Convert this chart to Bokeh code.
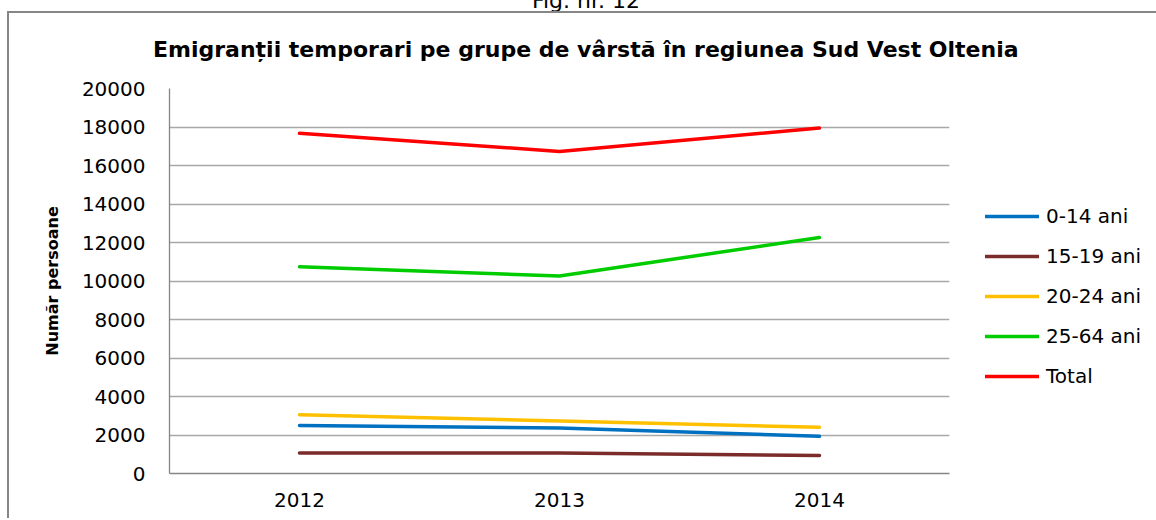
from bokeh.plotting import figure
from bokeh.models import (FactorRange, Range1d, FixedTicker, NumeralTickFormatter,
                          Div, Legend, LegendItem)
from bokeh.layouts import column, row
from bokeh.embed import file_html
from bokeh.resources import INLINE

# ---- data ----
years = ["2012", "2013", "2014"]
age_0_14 = [2490, 2370, 1930]
age_15_19 = [1060, 1060, 940]
age_20_24 = [3050, 2730, 2400]
age_25_64 = [10740, 10260, 12260]
total = [17670, 16730, 17950]
series_names = ["0-14 ani", "15-19 ani", "20-24 ani", "25-64 ani", "Total"]
series_values = [age_0_14, age_15_19, age_20_24, age_25_64, total]
series_colors = ["#0070C0", "#7B2C2A", "#FFC000", "#00CC00", "#FF0000"]
y_ticks = list(range(0, 20001, 2000))

title_text = "Emigranții temporari pe grupe de vârstă în regiunea Sud Vest Oltenia"
y_label = "Număr persoane"
fig_caption = "Fig. nr. 12"

FONT = "DejaVu Sans"
BORDER = "2px solid #868686"
H = 456

# ---- main chart ----
p = figure(
    width=948, height=H, title=None,
    x_range=FactorRange(*years, range_padding=0),
    y_range=Range1d(0, 20000),
    output_backend="svg", toolbar_location=None,
    min_border_left=160, min_border_right=8,
    min_border_top=26, min_border_bottom=45,
    background_fill_color="white", border_fill_color="white",
    outline_line_color=None,
    styles={"border-left": BORDER},
)

for vals, col in zip(series_values, series_colors):
    p.line(years, vals, line_color=col, line_width=3.5,
           line_cap="round", line_join="round")

p.yaxis.ticker = FixedTicker(ticks=y_ticks)
p.yaxis.formatter = NumeralTickFormatter(format="0")
for ax in (p.xaxis[0], p.yaxis[0]):
    ax.major_tick_in = 0
    ax.major_tick_out = 0
    ax.minor_tick_in = 0
    ax.minor_tick_out = 0
    ax.axis_line_color = "#868686"
    ax.axis_line_width = 1.3
    ax.major_label_text_font = FONT
    ax.major_label_text_font_size = "20px"
    ax.major_label_text_color = "#000000"
p.yaxis.major_label_standoff = 24
p.xaxis.major_label_standoff = 19
p.yaxis.axis_label = y_label
p.yaxis.axis_label_text_font = FONT
p.yaxis.axis_label_text_font_size = "16px"
p.yaxis.axis_label_text_font_style = "bold"
p.yaxis.axis_label_text_color = "#000000"
p.yaxis.axis_label_standoff = 17

p.xgrid.grid_line_color = None
p.ygrid.ticker = FixedTicker(ticks=y_ticks)
p.ygrid.grid_line_color = "#a8a8a8"
p.ygrid.grid_line_width = 1.3

# ---- legend panel (same series, drawn outside its visible range) ----
lf = figure(
    width=191, height=H, title=None,
    x_range=FactorRange(*years, range_padding=0), y_range=Range1d(-2, -1),
    x_axis_type=None, y_axis_type=None,
    output_backend="svg", toolbar_location=None,
    min_border_left=0, min_border_right=0, min_border_top=0, min_border_bottom=0,
    background_fill_color="white", border_fill_color="white",
    outline_line_color=None,
)
lf.xgrid.grid_line_color = None
lf.ygrid.grid_line_color = None

items = []
for name, vals, col in zip(series_names, series_values, series_colors):
    r = lf.line(years, vals, line_color=col, line_width=3.5,
                line_cap="round", line_join="round")
    items.append(LegendItem(label=name, renderers=[r]))

lg = Legend(items=items, location=(30, 85))
lg.padding = 0
lg.margin = 0
lg.spacing = 16
lg.glyph_width = 54
lg.glyph_height = 24
lg.label_height = 24
lg.label_standoff = 7
lg.label_text_font = FONT
lg.label_text_font_size = "20px"
lg.label_text_color = "#000000"
lg.border_line_color = None
lg.background_fill_alpha = 0
lf.add_layout(lg)

# ---- caption and title ----
caption = Div(
    text=fig_caption, width=1141, height=11, margin=(0, 0, 0, 0),
    styles={"font-family": FONT, "font-size": "22px", "line-height": "22px",
            "text-align": "center", "color": "#000000",
            "padding-left": "17px", "box-sizing": "border-box",
            "transform": "translateY(-10px)", "overflow": "visible"},
)
title = Div(
    text=title_text, width=1149, height=51, margin=(0, 0, 0, 0),
    styles={"font-family": FONT, "font-size": "22px", "line-height": "22px",
            "font-weight": "bold", "color": "#000000", "white-space": "nowrap",
            "padding-left": "144px", "padding-top": "26px",
            "box-sizing": "border-box", "background": "#ffffff",
            "border-top": BORDER, "border-left": BORDER},
)

layout = column(caption, title, row(p, lf, spacing=0), spacing=0,
                margin=(0, 0, 0, 7))

open("out.html", "w").write(file_html(layout, INLINE))
